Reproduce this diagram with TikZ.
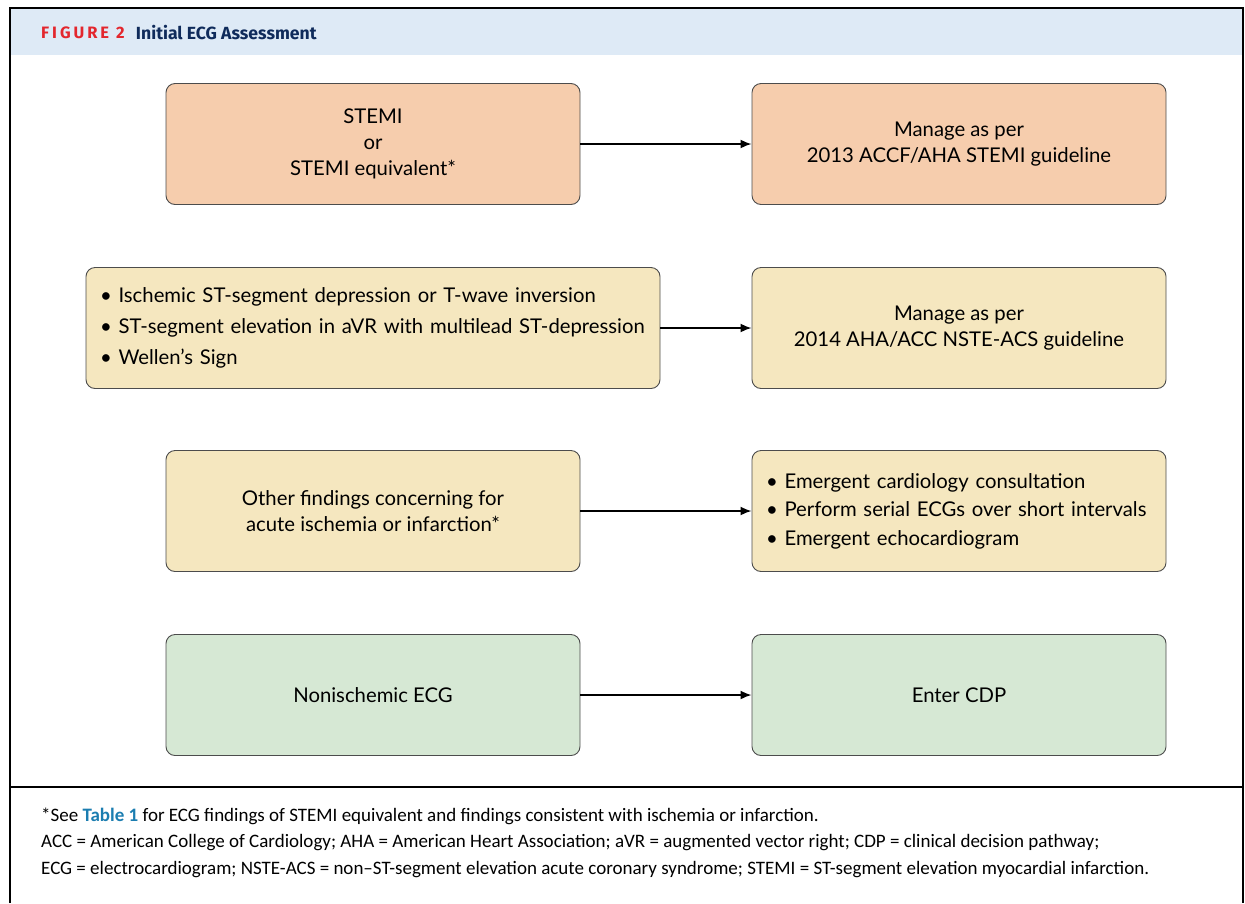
\documentclass[tikz,border=0pt]{standalone}
\usepackage{fontspec}
\setmainfont{Lato}
\newfontfamily\headfont{Fira Sans}
\newfontfamily\capfont{Carlito}
\usetikzlibrary{positioning,arrows.meta}
\definecolor{JOrange}{HTML}{F6CDAD}
\definecolor{JYellow}{HTML}{F5E7BF}
\definecolor{JGreen}{HTML}{D6E8D4}
\definecolor{JHead}{HTML}{DEEAF6}
\definecolor{JRed}{HTML}{E3262D}
\definecolor{JNavy}{HTML}{0F2B5B}
\definecolor{JTeal}{HTML}{1B7DB0}
\tikzset{
    block/.style = {draw=black!70, line width=0.9pt, rounded corners=9pt,
        minimum height=121pt, minimum width=414pt, align=center,
        font=\fontsize{20.3}{26}\selectfont},
    listblock/.style = {block, align=left, inner xsep=14pt},
    arrow/.style = {draw, line width=1.8pt, -{Latex[length=11pt,width=9pt]}},
    capline/.style = {anchor=west, inner sep=0pt, font=\capfont\fontsize{19}{22}\selectfont}
}

\begin{document}
\begin{tikzpicture}[x=1pt, y=-1pt]
        \useasboundingbox (0,0) rectangle (1245,903);
        % header band and frame
        \fill[JHead] (10,8) rectangle (1243,55);
        \draw[line width=2pt] (10,903) -- (10,8) -- (1243,8) -- (1243,903);
        \draw[line width=2pt] (10,787) -- (1243,787);
        \node[anchor=west, inner sep=0pt, text=JRed, font=\headfont\bfseries\fontsize{16.5}{18}\selectfont\addfontfeature{LetterSpace=18}] (fignum) at (41,33) {FIGURE 2};
        \node[right=11pt of fignum, inner sep=0pt, text=JNavy, font=\headfont\bfseries\fontsize{17.6}{20}\selectfont] (figtitle) {Initial ECG Assessment};
        % left column
        \node[block, fill=JOrange] (stemi) at (373,144) {STEMI\\or\\STEMI equivalent*};
        \node[listblock, fill=JYellow, text width=546pt, font=\fontsize{20.3}{31}\selectfont] (ischemic) at (373,328)
            {\textbullet\ Ischemic ST-segment depression or T-wave inversion\\
             \textbullet\ ST-segment elevation in aVR with multilead ST-depression\\
             \textbullet\ Wellen’s Sign};
        \node[block, fill=JYellow] (other) at (373,511) {Other findings concerning for\\acute ischemia or infarction*};
        \node[block, fill=JGreen] (nonisch) at (373,695) {Nonischemic ECG};
        % right column
        \node[block, fill=JOrange] (stemiman) at (959,144) {Manage as per\\2013 ACCF/AHA STEMI guideline};
        \node[block, fill=JYellow] (nsteman) at (959,328) {Manage as per\\2014 AHA/ACC NSTE-ACS guideline};
        \node[listblock, fill=JYellow, text width=386pt, font=\fontsize{20.3}{28.5}\selectfont] (emergent) at (959,511)
            {\textbullet\ Emergent cardiology consultation\\
             \textbullet\ Perform serial ECGs over short intervals\\
             \textbullet\ Emergent echocardiogram};
        \node[block, fill=JGreen] (cdp) at (959,695) {Enter CDP};
        \foreach \a/\b in {stemi/stemiman, ischemic/nsteman, other/emergent, nonisch/cdp}{
            \draw[arrow] (\a) -- (\b);
        }
        % footnote
        \node[capline] (cap1) at (41,816) {*See {\bfseries\color{JTeal}Table 1} for ECG findings of STEMI equivalent and findings consistent with ischemia or infarction.};
        \node[capline] (cap2) at (41,843) {ACC = American College of Cardiology; AHA = American Heart Association; aVR = augmented vector right; CDP = clinical decision pathway;};
        \node[capline] (cap3) at (41,870) {ECG = electrocardiogram; NSTE-ACS = non–ST-segment elevation acute coronary syndrome; STEMI = ST-segment elevation myocardial infarction.};
\end{tikzpicture}
\end{document}
